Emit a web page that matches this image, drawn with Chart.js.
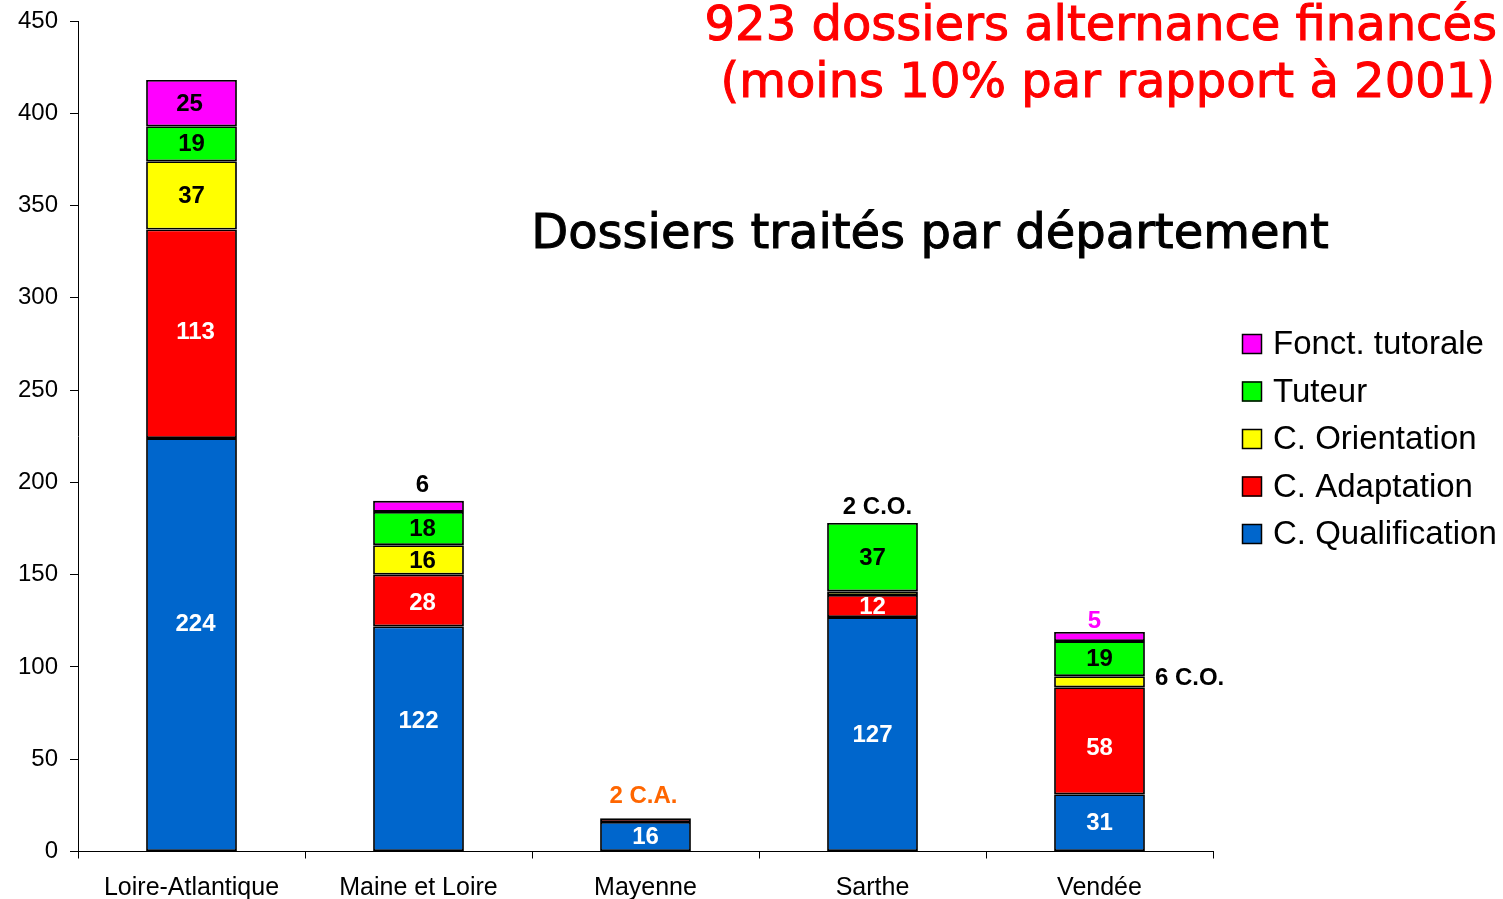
<!DOCTYPE html>
<html>
<head>
<meta charset="utf-8">
<script src="https://cdn.jsdelivr.net/npm/chart.js@4.4.1/dist/chart.umd.min.js"></script>
<style>
html,body{margin:0;padding:0;background:#fff;}
canvas{display:block;}
</style>
</head>
<body>
<canvas id="c" width="1503" height="899"></canvas>
<script>
// ---- data ----
const categories = ["Loire-Atlantique", "Maine et Loire", "Mayenne", "Sarthe", "Vendée"];
const qualification = [224, 122, 16, 127, 31];
const adaptation    = [113, 28, 2, 12, 58];
const orientation   = [37, 16, 0, 2, 6];
const tuteur        = [19, 18, 0, 37, 19];
const fonctTutorale = [25, 6, 0, 0, 5];
const yTicks = [0, 50, 100, 150, 200, 250, 300, 350, 400, 450];
const titleLines = ["923 dossiers alternance financés", "(moins 10% par rapport à 2001)"];
const subTitle = "Dossiers traités par département";
// annotations for small segments (category index, series index, text)
const annotations = [
  {cat: 1, series: 4, text: "6",      color: "#000000", place: "above", dy: -15, dx: 4},
  {cat: 2, series: 1, text: "2 C.A.", color: "#FF6600", place: "above", dy: -22, dx: -2},
  {cat: 3, series: 2, text: "2 C.O.", color: "#000000", place: "above", dy: -16, dx: 5},
  {cat: 4, series: 4, text: "5",      color: "#FF00FF", place: "above", dy: -11, dx: -5},
  {cat: 4, series: 2, text: "6 C.O.", color: "#000000", place: "right", dy: -3}
];
// small manual nudges of inside labels (style only): "cat,series" -> [dx, dy]
const labelNudges = {"0,0": [4, -21], "0,1": [4, -2], "0,4": [-2, 0], "1,0": [0, -18], "1,1": [4, 2], "1,2": [4, 0], "1,3": [4, 0], "4,1": [0, 7]};

const seriesDefs = [
  {label: "C. Qualification", data: qualification, color: "#0066CC", text: "#FFFFFF"},
  {label: "C. Adaptation",    data: adaptation,    color: "#FF0000", text: "#FFFFFF"},
  {label: "C. Orientation",   data: orientation,   color: "#FFFF00", text: "#000000"},
  {label: "Tuteur",           data: tuteur,        color: "#00FF00", text: "#000000"},
  {label: "Fonct. tutorale",  data: fonctTutorale, color: "#FF00FF", text: "#000000"}
];

const datasets = seriesDefs.map(s => ({
  label: s.label,
  data: s.data,
  backgroundColor: s.color,
  borderColor: "#000000",
  borderWidth: 1.8,
  borderSkipped: false,
  barPercentage: 0.4,
  categoryPercentage: 1.0
}));

const labelPlugin = {
  id: "segLabels",
  afterDatasetsDraw(chart) {
    const ctx = chart.ctx;
    ctx.save();
    ctx.font = 'bold 24px "Liberation Sans", Arial, sans-serif';
    ctx.textAlign = "center";
    ctx.textBaseline = "middle";
    chart.data.datasets.forEach((ds, di) => {
      const meta = chart.getDatasetMeta(di);
      meta.data.forEach((bar, i) => {
        const v = ds.data[i];
        if (v >= 10) {
          const n = labelNudges[i + "," + di] || [0, 0];
          ctx.fillStyle = seriesDefs[di].text;
          ctx.fillText(String(v), bar.x + n[0], (bar.y + bar.base) / 2 + 1 + n[1]);
        }
      });
    });
    const lastMeta = chart.getDatasetMeta(chart.data.datasets.length - 1);
    annotations.forEach(a => {
      const bar = chart.getDatasetMeta(a.series).data[a.cat];
      ctx.fillStyle = a.color;
      if (a.place === "above") {
        const top = lastMeta.data[a.cat].y;
        ctx.textAlign = "center";
        ctx.fillText(a.text, bar.x + (a.dx || 0), top + a.dy);
      } else {
        ctx.textAlign = "left";
        ctx.fillText(a.text, bar.x + bar.width / 2 + 10, (bar.y + bar.base) / 2 + a.dy);
      }
    });
    ctx.restore();
  }
};

const decorPlugin = {
  id: "decor",
  afterDraw(chart) {
    const ctx = chart.ctx;
    ctx.save();
    // titles
    ctx.font = '48px "DejaVu Sans", Verdana, sans-serif';
    ctx.textAlign = "right";
    ctx.textBaseline = "alphabetic";
    ctx.fillStyle = "#FF0000";
    ctx.strokeStyle = "#FF0000";
    ctx.lineWidth = 1;
    ctx.fillText(titleLines[0], 1497, 40);
    ctx.strokeText(titleLines[0], 1497, 40);
    ctx.fillText(titleLines[1], 1495, 97);
    ctx.strokeText(titleLines[1], 1495, 97);
    ctx.fillStyle = "#000000";
    ctx.strokeStyle = "#000000";
    ctx.textAlign = "center";
    ctx.fillText(subTitle, 930, 248);
    ctx.strokeText(subTitle, 930, 248);
    // legend (reversed order)
    ctx.font = '33px "Liberation Sans", Arial, sans-serif';
    ctx.textAlign = "left";
    ctx.textBaseline = "middle";
    const n = seriesDefs.length;
    for (let k = 0; k < n; k++) {
      const s = seriesDefs[n - 1 - k];
      const cy = 344 + k * 47.5;
      ctx.fillStyle = s.color;
      ctx.fillRect(1242, cy - 10, 20, 20);
      ctx.strokeStyle = "#000000";
      ctx.lineWidth = 1.5;
      ctx.strokeRect(1242.5, cy - 9.5, 19, 19);
      ctx.fillStyle = "#000000";
      ctx.fillText(s.label, 1273, cy + 1);
    }
    ctx.restore();
  }
};

new Chart(document.getElementById("c"), {
  type: "bar",
  data: {labels: categories, datasets: datasets},
  options: {
    responsive: false,
    animation: false,
    devicePixelRatio: 1,
    layout: {padding: {top: 21, right: 290, left: 0, bottom: 0}},
    plugins: {legend: {display: false}, tooltip: {enabled: false}, title: {display: false}},
    scales: {
      x: {
        stacked: true,
        grid: {display: true, drawOnChartArea: false, drawTicks: true, tickLength: 7, color: "#000000", offset: true, lineWidth: 1},
        border: {display: true, color: "#000000", width: 1},
        ticks: {color: "#000000", font: {family: '"Liberation Sans", Arial, sans-serif', size: 25}, padding: 15, maxRotation: 0, autoSkip: false},
        afterFit(scale) { scale.height = 47.5; scale.paddingLeft = 0; scale.paddingRight = 0; }
      },
      y: {
        stacked: true,
        min: 0,
        max: 450,
        afterBuildTicks(scale) { scale.ticks = yTicks.map(v => ({value: v})); },
        grid: {display: true, drawOnChartArea: false, drawTicks: true, tickLength: 8, color: "#000000", lineWidth: 1},
        border: {display: true, color: "#000000", width: 1},
        ticks: {color: "#000000", font: {family: '"Liberation Sans", Arial, sans-serif', size: 24}, padding: 12},
        afterFit(scale) { scale.width = 78; scale.paddingTop = 0; scale.paddingBottom = 0; }
      }
    }
  },
  plugins: [labelPlugin, decorPlugin]
});
</script>
</body>
</html>
